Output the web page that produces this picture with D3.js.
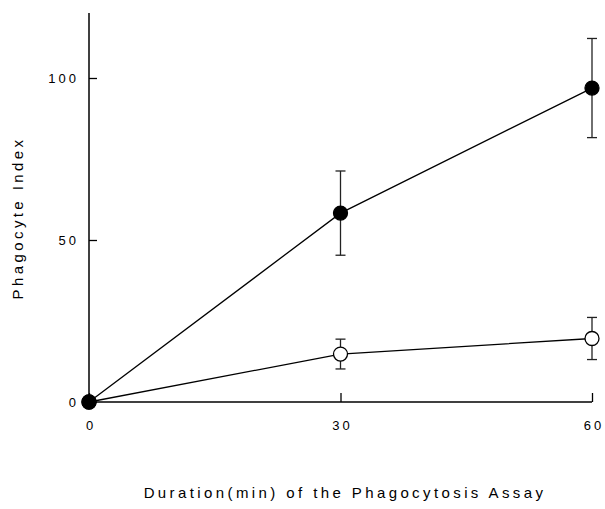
<!DOCTYPE html>
<html>
<head>
<meta charset="utf-8">
<script src="https://cdn.jsdelivr.net/npm/d3@7"></script>
<style>
body { margin: 0; background: #fff; }
svg { font-family: "Liberation Sans", Arial, sans-serif; }
.tick text { font-size: 13px; letter-spacing: 3px; fill: #000; }
.axisTitle { font-size: 15px; letter-spacing: 3.4px; fill: #000; }
</style>
</head>
<body>
<svg width="605" height="509"></svg>
<script>
// time points (min)
const times = [0, 30, 60];
// filled circles
const filledMean = [0, 58.3, 96.9];
const filledErr = [0, 13, 15.3];
// open circles
const openMean = [0, 14.8, 19.6];
const openErr = [0, 4.6, 6.5];
const xTicks = [0, 30, 60];
const yTicks = [0, 50, 100];

var svg = d3.select("svg");
let xScale = d3.scaleLinear().domain([0, 60]).range([89, 592]);
let yScale = d3.scaleLinear().domain([0, 100]).range([402, 78]);

// y axis
let yAx = svg.append("g")
    .attr("transform", "translate(" + 89 + ",0)")
    .call(d3.axisRight(yScale).tickValues(yTicks).tickSize(8).tickSizeOuter(0).tickFormat(d3.format("d")));
yAx.select(".domain").remove();
yAx.selectAll(".tick text").attr("x", -10).attr("text-anchor", "end").attr("dy", "0.35em");
yAx.selectAll(".tick line").attr("stroke", "#000").attr("stroke-width", 1.3);
svg.append("line")
    .attr("x1", 89).attr("x2", 89)
    .attr("y1", 13).attr("y2", 402)
    .attr("stroke", "#000").attr("stroke-width", 1.5);

// x axis
let xAx = svg.append("g")
    .attr("transform", "translate(0," + 402 + ")")
    .call(d3.axisTop(xScale).tickValues(xTicks).tickSize(9).tickSizeOuter(0).tickFormat(d3.format("d")));
xAx.select(".domain").remove();
xAx.selectAll(".tick text").attr("y", 23).attr("dy", "0.35em").attr("dx", "1.5px");
xAx.selectAll(".tick line").attr("stroke", "#000").attr("stroke-width", 1.3);
svg.append("line")
    .attr("x1", 89).attr("x2", 592)
    .attr("y1", 402).attr("y2", 402)
    .attr("stroke", "#000").attr("stroke-width", 1.5);

// titles
svg.append("text")
    .attr("class", "axisTitle")
    .attr("transform", "translate(" + 23 + "," + 218 + ") rotate(-90)")
    .attr("text-anchor", "middle")
    .text("Phagocyte Index");
svg.append("text")
    .attr("class", "axisTitle")
    .attr("x", 345).attr("y", 498)
    .attr("text-anchor", "middle")
    .text("Duration(min) of the Phagocytosis Assay");

function drawSeries(mean, err, fill) {
    let pts = times.map((t, i) => ({ t: t, m: mean[i], e: err[i] }));
    let line = d3.line().x(d => xScale(d.t)).y(d => yScale(d.m));
    svg.append("path")
        .datum(pts)
        .attr("d", line)
        .attr("fill", "none")
        .attr("stroke", "#000")
        .attr("stroke-width", 1.3);
    let eb = svg.append("g").selectAll("g")
        .data(pts.filter(d => d.e > 0))
        .enter().append("g")
        .attr("stroke", "#222")
        .attr("stroke-width", 1.3);
    eb.append("line")
        .attr("x1", d => xScale(d.t)).attr("x2", d => xScale(d.t))
        .attr("y1", d => yScale(d.m + d.e)).attr("y2", d => yScale(d.m - d.e));
    eb.append("line")
        .attr("x1", d => xScale(d.t) - 5).attr("x2", d => xScale(d.t) + 5)
        .attr("y1", d => yScale(d.m + d.e)).attr("y2", d => yScale(d.m + d.e));
    eb.append("line")
        .attr("x1", d => xScale(d.t) - 5).attr("x2", d => xScale(d.t) + 5)
        .attr("y1", d => yScale(d.m - d.e)).attr("y2", d => yScale(d.m - d.e));
    svg.append("g").selectAll("circle")
        .data(pts)
        .enter().append("circle")
        .attr("cx", d => xScale(d.t))
        .attr("cy", d => yScale(d.m))
        .attr("r", 7)
        .attr("fill", fill)
        .attr("stroke", "#000")
        .attr("stroke-width", 1.3);
}

drawSeries(openMean, openErr, "#fff");
drawSeries(filledMean, filledErr, "#000");
</script>
</body>
</html>
